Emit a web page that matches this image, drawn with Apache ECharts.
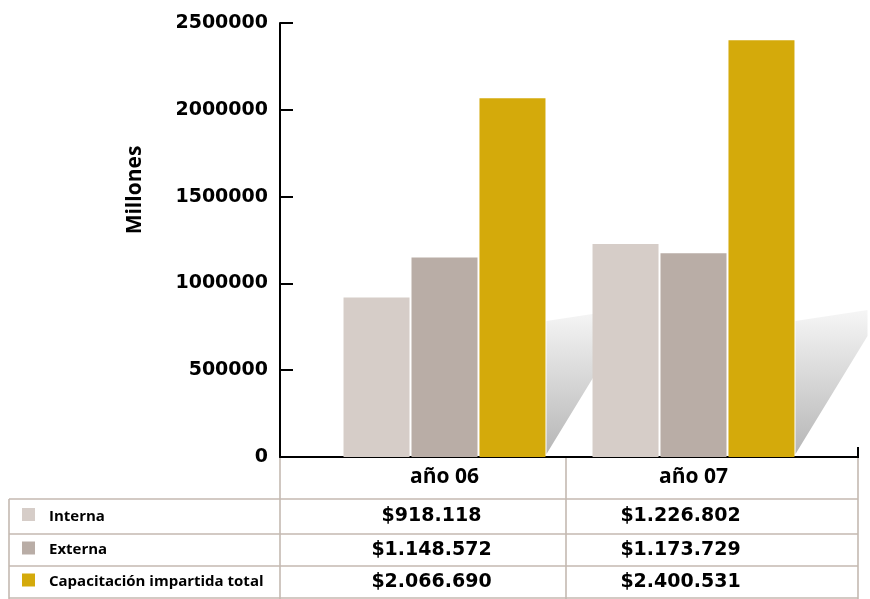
<!DOCTYPE html>
<html><head><meta charset="utf-8">
<script src="https://cdn.jsdelivr.net/npm/echarts@6/dist/echarts.min.js"></script>
<style>html,body{margin:0;padding:0;background:#fff}#c{width:870px;height:599px}</style>
</head><body><div id="c"></div>
<script>
// ---- data ----
const categories = ['año 06', 'año 07'];
const seriesNames = ['Interna', 'Externa', 'Capacitación impartida total'];
const interna = [918118, 1226802];
const externa = [1148572, 1173729];
const total = [2066690, 2400531];
const yMin = 0, yMax = 2500000, yStep = 500000;
const axisTitle = 'Millones';

// ---- styles ----
const colors = ['#d6cdc8', '#b9ada6', '#d4aa0b'];
const seriesValues = [interna, externa, total];
const BAR_W = 66, BAR_GAP_PX = 2;
const GROUP_HALF = (3 * BAR_W + 2 * BAR_GAP_PX) / 2;
const LINE_C = '#c4b9b1';
const NUM_FONT = 'DejaVu Sans';
const TXT_FONT = 'Open Sans';

function fmt(v) { return '$' + String(v).replace(/\B(?=(\d{3})+(?!\d))/g, '.'); }

const chart = echarts.init(document.getElementById('c'), null, { renderer: 'canvas' });

const option = {
  animation: false,
  backgroundColor: '#fff',
  grid: [
    { left: 320, right: 52, top: 23, bottom: 142 },
    { left: 280, right: 12, top: 23, bottom: 142 }
  ],
  xAxis: [
    {
      type: 'category', data: categories, gridIndex: 0,
      axisLine: { show: false }, axisTick: { show: false },
      axisLabel: { margin: 10, color: '#000', fontFamily: TXT_FONT, fontWeight: 'bold', fontSize: 21 }
    },
    {
      type: 'category', data: categories, gridIndex: 1,
      axisLine: { show: true, lineStyle: { color: '#000', width: 2 } },
      axisTick: { show: false }, axisLabel: { show: false }
    }
  ],
  yAxis: [
    {
      type: 'value', gridIndex: 0, min: yMin, max: yMax, interval: yStep, offset: 40,
      axisLine: { show: true, lineStyle: { color: '#000', width: 2 } },
      axisTick: { show: true, inside: true, length: 13, lineStyle: { color: '#000', width: 2 } },
      axisLabel: { margin: 12, color: '#000', fontFamily: NUM_FONT, fontWeight: 'bold', fontSize: 19, formatter: v => String(v) },
      splitLine: { show: false }
    },
    { type: 'value', gridIndex: 1, min: yMin, max: yMax, show: false }
  ],
  series: [
    {
      type: 'custom', xAxisIndex: 0, yAxisIndex: 0, z: 1, silent: true,
      data: categories.map((c, i) => [i, total[i]]),
      renderItem(params, api) {
        const base = api.coord([api.value(0), 0]);
        const R = base[0] + GROUP_HALF + 1;
        return {
          type: 'polygon',
          shape: { points: [[R, base[1] - 136], [R + 72, base[1] - 147], [R + 72, base[1] - 121], [R, base[1] - 3]] },
          style: { fill: new echarts.graphic.LinearGradient(0, 0, 0, 1, [{ offset: 0, color: '#f6f6f6' }, { offset: 1, color: '#b6b6b6' }]) }
        };
      }
    }
  ].concat(seriesNames.map((n, k) => ({
    name: n, type: 'bar', xAxisIndex: 0, yAxisIndex: 0, z: 2,
    barWidth: BAR_W, barGap: (BAR_GAP_PX / BAR_W * 100).toFixed(1) + '%',
    itemStyle: { color: colors[k] },
    data: seriesValues[k]
  })))
};
chart.setOption(option);

// ---- data table below the chart ----
const tableX = [9, 280, 566, 858];
const rowY = [499, 534, 566, 598];
const headerTop = 457;
const g = [];
rowY.forEach(y => g.push({ type: 'line', shape: { x1: tableX[0], y1: y, x2: tableX[3], y2: y }, style: { stroke: LINE_C, lineWidth: 1.6 } }));
g.push({ type: 'line', shape: { x1: tableX[0], y1: rowY[0], x2: tableX[0], y2: 599 }, style: { stroke: LINE_C, lineWidth: 1.6 } });
[1, 2, 3].forEach(i => g.push({ type: 'line', shape: { x1: tableX[i], y1: headerTop + 1, x2: tableX[i], y2: 599 }, style: { stroke: LINE_C, lineWidth: 1.6 } }));
g.push({ type: 'line', shape: { x1: tableX[3], y1: headerTop - 10, x2: tableX[3], y2: headerTop + 1 }, style: { stroke: '#000', lineWidth: 2 } });

seriesNames.forEach((n, k) => {
  const cy = (rowY[k] + rowY[k + 1]) / 2;
  g.push({ type: 'rect', shape: { x: 22, y: cy - 8.5, width: 13, height: 13 }, style: { fill: colors[k] } });
  g.push({ type: 'text', x: 49, y: cy, style: { text: n, fill: '#000', font: 'bold 15px "' + TXT_FONT + '"', textVerticalAlign: 'middle', textAlign: 'left' } });
  categories.forEach((c, i) => {
    const cx = chart.convertToPixel({ xAxisIndex: 0 }, c) - 13;
    g.push({ type: 'text', x: cx, y: cy, style: { text: fmt(seriesValues[k][i]), fill: '#000', font: 'bold 19px "' + NUM_FONT + '"', textVerticalAlign: 'middle', textAlign: 'center' } });
  });
});
g.push({ type: 'text', x: 135, y: 190, rotation: Math.PI / 2, style: { text: axisTitle, fill: '#000', font: 'bold 21px "' + TXT_FONT + '"', textAlign: 'center', textVerticalAlign: 'middle' } });
chart.setOption({ graphic: g });
</script>
</body></html>
